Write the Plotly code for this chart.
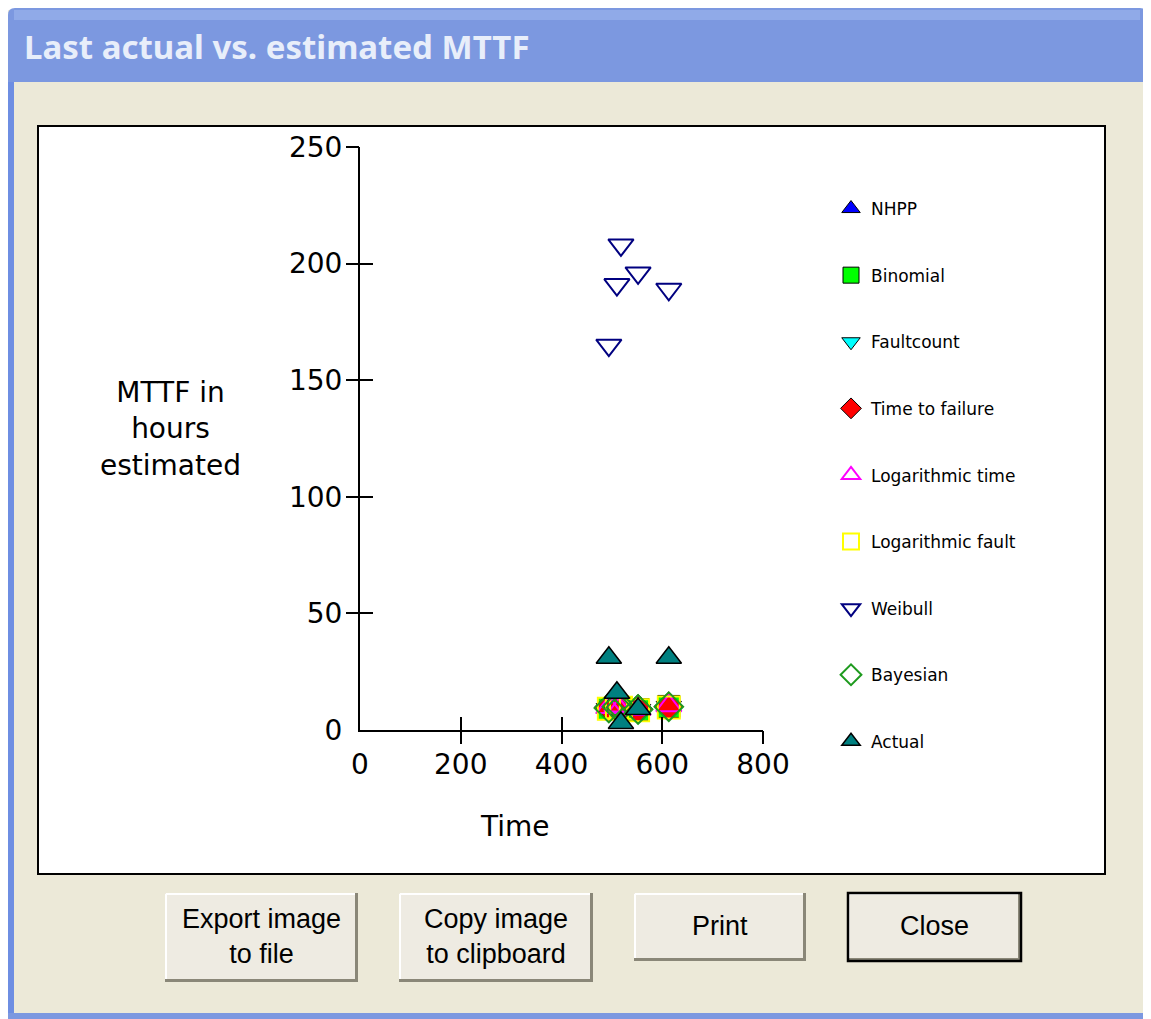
import plotly.graph_objects as go

# The page places the figure 8px in from the top-left corner, so the figure
# is made 8px smaller and all positions are expressed in page pixels.
OFF = 8
W, H = 1151 - OFF, 1019 - OFF

# ---------------- data ----------------
times = [494, 510, 518, 552, 613]
nhpp = [9.5, 10.2, 9.8, 8.9, 10.5]
binomial = [9.2, 9.9, 9.6, 8.7, 10.1]
faultcount = [9.0, 9.7, 9.4, 8.6, 9.9]
time_to_failure = [9.8, 10.5, 10.1, 9.1, 10.2]
log_time = [9.6, 10.3, 9.9, 8.8, 10.4]
log_fault = [9.1, 9.8, 9.5, 8.5, 9.6]
weibull = [165, 191, 208, 196, 189]
bayesian = [9.4, 10.0, 9.7, 8.8, 10.0]
actual = [31, 16, 3, 9, 31]

x_ticks = [0, 200, 400, 600, 800]
y_ticks = [0, 50, 100, 150, 200, 250]

series = [
    ("NHPP", nhpp, "triangle-up", "#0000FF", "black", 1),
    ("Binomial", binomial, "square", "#00FF00", "black", 1),
    ("Faultcount", faultcount, "triangle-down", "#00FFFF", "black", 1),
    ("Time to failure", time_to_failure, "diamond", "#FF0000", "black", 1),
    ("Logarithmic time", log_time, "triangle-up-open", "#FF00FF", "#FF00FF", 2),
    ("Logarithmic fault", log_fault, "square-open", "#FFFF00", "#FFFF00", 2),
    ("Weibull", weibull, "triangle-down-open", "#000080", "#000080", 2),
    ("Bayesian", bayesian, "diamond-open", "#1E9A1E", "#1E9A1E", 2),
    ("Actual", actual, "triangle-up", "#008080", "black", 1.5),
]


def px(x):
    return (x - OFF) / W


def py(y):
    return 1 - (y - OFF) / H


fig = go.Figure()
for name, vals, sym, col, lcol, lw in series:
    fig.add_trace(go.Scatter(
        x=times, y=vals, mode="markers", name=name, legendgroup=name,
        marker=dict(symbol=sym, size=22, color=col,
                    line=dict(color=lcol, width=lw)),
        xaxis="x", yaxis="y",
    ))

# invisible traces for tick overlay axes
fig.add_trace(go.Scatter(x=[None], y=[None], xaxis="x2", yaxis="y2",
                         showlegend=False, hoverinfo="skip"))
fig.add_trace(go.Scatter(x=[None], y=[None], xaxis="x3", yaxis="y3",
                         showlegend=False, hoverinfo="skip"))

xdom = [px(360), px(763)]
ydom = [py(730), py(147)]
tickfont = dict(family="DejaVu Sans", size=28, color="black")

fig.update_layout(
    width=W, height=H,
    margin=dict(l=0, r=0, t=0, b=0, pad=0, autoexpand=False),
    paper_bgcolor="white",
    plot_bgcolor="rgba(0,0,0,0)",
    showlegend=True,
    xaxis=dict(domain=xdom, range=[0, 800], tickvals=x_ticks,
               ticks="", showline=True, linecolor="black", linewidth=2,
               showgrid=False, zeroline=False, tickfont=tickfont,
               ticklabelstandoff=8, anchor="y", automargin=False),
    yaxis=dict(domain=ydom, range=[0, 250], tickvals=y_ticks,
               ticks="", showline=True, linecolor="black", linewidth=2,
               showgrid=False, zeroline=False, tickfont=tickfont,
               ticklabelstandoff=10, anchor="x", automargin=False),
    xaxis2=dict(domain=xdom, range=[0, 800], tickvals=x_ticks[1:],
                ticks="outside", ticklen=13, tickwidth=2, tickcolor="black",
                showticklabels=False, showline=False, showgrid=False,
                zeroline=False, overlaying="x", anchor="y2"),
    yaxis2=dict(domain=ydom, range=[0, 250], tickvals=y_ticks[1:],
                ticks="outside", ticklen=13, tickwidth=2, tickcolor="black",
                showticklabels=False, showline=False, showgrid=False,
                zeroline=False, overlaying="y", anchor="x2"),
    xaxis3=dict(domain=xdom, range=[0, 800], tickvals=x_ticks[1:],
                ticks="inside", ticklen=13, tickwidth=2, tickcolor="black",
                showticklabels=False, showline=False, showgrid=False,
                zeroline=False, overlaying="x", anchor="y3"),
    yaxis3=dict(domain=ydom, range=[0, 250], tickvals=y_ticks[1:],
                ticks="inside", ticklen=13, tickwidth=2, tickcolor="black",
                showticklabels=False, showline=False, showgrid=False,
                zeroline=False, overlaying="y", anchor="x3"),
    legend=dict(x=px(831), y=py(191), xanchor="left", yanchor="top",
                bgcolor="rgba(0,0,0,0)", borderwidth=0,
                font=dict(family="DejaVu Sans", size=17, color="black"),
                tracegroupgap=41.5, itemclick=False),
)

shapes = []
# window body
shapes.append(dict(type="rect", xref="paper", yref="paper",
                   x0=px(8), x1=px(1147), y0=py(1019), y1=py(10),
                   fillcolor="#ECE9D8", line=dict(width=0), layer="below"))
# title bar with rounded top corners
x0, x1, y0, y1, r = 8, 1147, 8, 82, 7
path = (f"M {px(x0)} {py(y1)} L {px(x0)} {py(y0 + r)} "
        f"Q {px(x0)} {py(y0)} {px(x0 + r)} {py(y0)} "
        f"L {px(x1 - r)} {py(y0)} Q {px(x1)} {py(y0)} {px(x1)} {py(y0 + r)} "
        f"L {px(x1)} {py(y1)} Z")
shapes.append(dict(type="path", xref="paper", yref="paper", path=path,
                   fillcolor="#7C98E0", line=dict(width=0), layer="below"))
# lighter highlight strip in title bar
shapes.append(dict(type="rect", xref="paper", yref="paper",
                   x0=px(14), x1=px(1140), y0=py(20), y1=py(10),
                   fillcolor="#90AAE8", line=dict(width=0), layer="below"))
# window borders
shapes.append(dict(type="rect", xref="paper", yref="paper",
                   x0=px(8), x1=px(14), y0=0, y1=py(82),
                   fillcolor="#6E8EE2", line=dict(width=0), layer="below"))
shapes.append(dict(type="rect", xref="paper", yref="paper",
                   x0=px(1144), x1=px(1147), y0=0, y1=py(82),
                   fillcolor="#7C98E0", line=dict(width=0), layer="below"))
shapes.append(dict(type="rect", xref="paper", yref="paper",
                   x0=px(8), x1=px(1147), y0=0, y1=py(1013),
                   fillcolor="#7C98E0", line=dict(width=0), layer="below"))
# chart white panel
shapes.append(dict(type="rect", xref="paper", yref="paper",
                   x0=px(38), x1=px(1105), y0=py(874), y1=py(126),
                   fillcolor="white", line=dict(color="black", width=2),
                   layer="below"))

# buttons
buttons = [
    (165, 358, 893, 982, ["Export image", "to file"], False),
    (399, 593, 893, 982, ["Copy image", "to clipboard"], False),
    (634, 806, 893, 961, ["Print"], False),
    (848, 1021, 893, 961, ["Close"], True),
]
annotations = []
for bx0, bx1, by0, by1, lines, default in buttons:
    shapes.append(dict(type="rect", xref="paper", yref="paper",
                       x0=px(bx0), x1=px(bx1), y0=py(by1), y1=py(by0),
                       fillcolor="#EEEBE2", line=dict(width=0), layer="below"))
    # highlight (top/left)
    shapes.append(dict(type="line", xref="paper", yref="paper",
                       x0=px(bx0 + 1), x1=px(bx1 - 1), y0=py(by0 + 1), y1=py(by0 + 1),
                       line=dict(color="white", width=2), layer="below"))
    shapes.append(dict(type="line", xref="paper", yref="paper",
                       x0=px(bx0 + 1), x1=px(bx0 + 1), y0=py(by0 + 1), y1=py(by1 - 1),
                       line=dict(color="white", width=2), layer="below"))
    # shadow (bottom/right)
    shapes.append(dict(type="line", xref="paper", yref="paper",
                       x0=px(bx0), x1=px(bx1), y0=py(by1 - 1.5), y1=py(by1 - 1.5),
                       line=dict(color="#8A8778", width=3), layer="below"))
    shapes.append(dict(type="line", xref="paper", yref="paper",
                       x0=px(bx1 - 1.5), x1=px(bx1 - 1.5), y0=py(by0), y1=py(by1),
                       line=dict(color="#8A8778", width=3), layer="below"))
    if default:
        shapes.append(dict(type="rect", xref="paper", yref="paper",
                           x0=px(bx0), x1=px(bx1), y0=py(by1), y1=py(by0),
                           fillcolor="rgba(0,0,0,0)",
                           line=dict(color="black", width=2.5), layer="below"))
    annotations.append(dict(
        xref="paper", yref="paper", x=px((bx0 + bx1) / 2),
        y=py((by0 + by1) / 2 - 1), xanchor="center", yanchor="middle",
        text="<br>".join(lines), showarrow=False,
        font=dict(family="Liberation Sans", size=27, color="black"),
    ))

# title bar text
annotations.append(dict(
    xref="paper", yref="paper", x=px(22), y=py(46), xanchor="left",
    yanchor="middle", text="<b>Last actual vs. estimated MTTF</b>",
    showarrow=False,
    font=dict(family="Noto Sans", size=33, color="#E8EEFA"),
))
# axis titles
annotations.append(dict(
    xref="paper", yref="paper", x=px(170), y=py(429), xanchor="center",
    yanchor="middle", text="MTTF in<br>hours<br>estimated", showarrow=False,
    font=dict(family="DejaVu Sans", size=28, color="black"),
))
annotations.append(dict(
    xref="paper", yref="paper", x=px(515), y=py(826), xanchor="center",
    yanchor="middle", text="Time", showarrow=False,
    font=dict(family="DejaVu Sans", size=28, color="black"),
))

fig.update_layout(shapes=shapes, annotations=annotations)
fig.write_html("out.html")
